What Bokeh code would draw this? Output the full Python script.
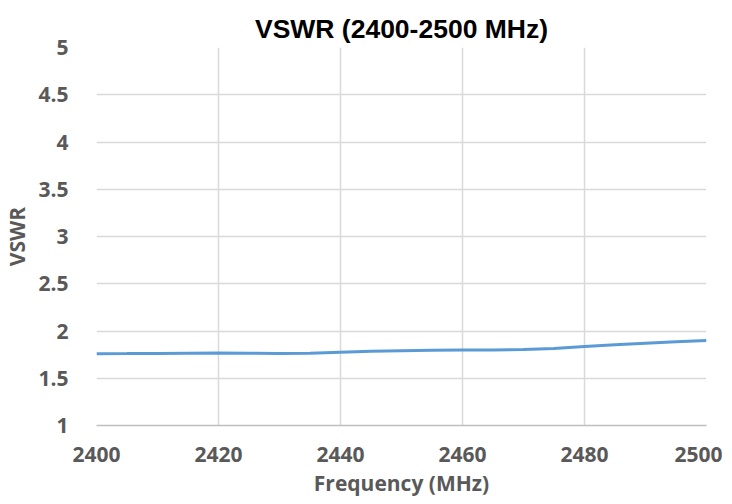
from bokeh.plotting import figure
from bokeh.models import FixedTicker, ColumnDataSource
from bokeh.embed import file_html
from bokeh.resources import INLINE

# Data
freq_mhz = [2400, 2405, 2410, 2415, 2420, 2425, 2430, 2435, 2440, 2445, 2450,
            2455, 2460, 2465, 2470, 2475, 2480, 2485, 2490, 2495, 2500]
vswr = [1.760, 1.761, 1.763, 1.765, 1.766, 1.765, 1.763, 1.765, 1.775, 1.785, 1.790,
        1.795, 1.798, 1.800, 1.805, 1.815, 1.835, 1.855, 1.870, 1.885, 1.899]

x_ticks = [2400, 2420, 2440, 2460, 2480, 2500]
y_ticks = [1, 1.5, 2, 2.5, 3, 3.5, 4, 4.5, 5]
y_tick_labels = {1: "1", 1.5: "1.5", 2: "2", 2.5: "2.5", 3: "3", 3.5: "3.5",
                 4: "4", 4.5: "4.5", 5: "5"}

title_text = "VSWR (2400-2500 MHz)"
x_label = "Frequency (MHz)"
y_label = "VSWR"

src = ColumnDataSource(dict(x=freq_mhz, y=vswr))

p = figure(frame_width=610, frame_height=378, output_backend="svg", toolbar_location=None,
           x_range=(2400, 2500), y_range=(1, 5),
           min_border_left=90, min_border_right=16, min_border_top=47,
           min_border_bottom=71, title=title_text)

p.title.align = "center"
p.title.vertical_align = "top"
p.title.text_font = "Liberation Sans"
p.title.text_font_style = "bold"
p.title.text_font_size = "26.5px"
p.title.text_color = "#000000"
p.title.standoff = 4

p.line("x", "y", source=src, line_color="#5B9BD5", line_width=3)

tick_font = "Open Sans"
for ax in (p.xaxis, p.yaxis):
    ax.major_label_text_font = tick_font
    ax.major_label_text_font_style = "bold"
    ax.major_label_text_font_size = "21px"
    ax.major_label_text_color = "#595959"
    ax.axis_label_text_font = tick_font
    ax.axis_label_text_font_style = "bold"
    ax.axis_label_text_font_size = "21px"
    ax.axis_label_text_color = "#595959"
    ax.major_tick_line_color = None
    ax.minor_tick_line_color = None

p.xaxis.ticker = FixedTicker(ticks=x_ticks)
p.yaxis.ticker = FixedTicker(ticks=y_ticks)
p.yaxis.major_label_overrides = y_tick_labels
p.xaxis.axis_label = x_label
p.yaxis.axis_label = y_label
p.xaxis.axis_line_color = "#BFBFBF"
p.xaxis.axis_line_width = 1.5
p.yaxis.axis_line_color = None
p.xaxis.major_label_standoff = 15
p.yaxis.major_label_standoff = 22
p.xaxis.axis_label_standoff = 4
p.yaxis.axis_label_standoff = 4

p.xgrid.grid_line_color = "#D9D9D9"
p.ygrid.grid_line_color = "#D9D9D9"
p.xgrid.grid_line_width = 1.5
p.ygrid.grid_line_width = 1.5
p.outline_line_color = None
p.background_fill_color = "white"
p.border_fill_color = "white"

open("out.html", "w").write(file_html(p, INLINE))
